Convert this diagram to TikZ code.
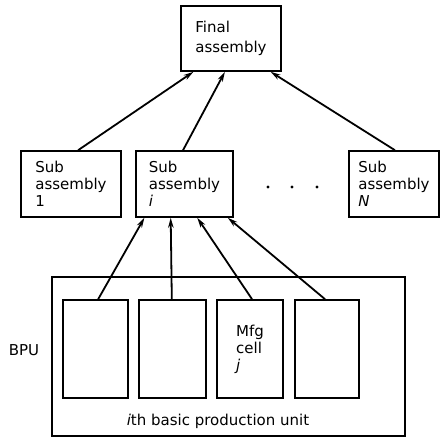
\documentclass[tikz,border=0pt]{standalone}
\usepackage{fontspec}
\setmainfont{DejaVu Sans}
\usetikzlibrary{arrows.meta,calc}
\begin{document}
\begin{tikzpicture}[x=1pt,y=-1pt,
  box/.style={draw, line width=1.6pt, inner sep=0pt, align=left, font=\fontsize{15}{17}\selectfont},
  lbl/.style={inner sep=0pt, font=\fontsize{15}{17}\selectfont},
  arr/.style={line width=1.8pt, -{Stealth[length=10pt,width=5.5pt]}},
]
\useasboundingbox (0,0) rectangle (441,437);
% top level
\node[box, minimum width=100pt, minimum height=65pt, font=\fontsize{15}{20}\selectfont] (final) at (231,38.5) {Final\\assembly};
% sub assemblies
\node[box, minimum width=100pt, minimum height=66pt] (s1) at (71,184) {Sub\\assembly\\1};
\node[box, minimum width=97pt, minimum height=66pt] (si) at (184.5,184) {Sub\\assembly\\\textit{i}};
\node[box, minimum width=90pt, minimum height=66pt] (sn) at (394,184) {Sub\\assembly\\\textit{N}};
\fill (268,187) circle (1.7) (292,187) circle (1.7) (317,187) circle (1.7);
% basic production unit
\node[box, minimum width=353pt, minimum height=159pt] (bpu) at (228.5,356.5) {};
\node[box, minimum width=65pt, minimum height=98pt] (c1) at (95.5,349) {};
\node[box, minimum width=67pt, minimum height=98pt] (c2) at (172.5,349) {};
\node[box, minimum width=66pt, minimum height=98pt] (c3) at (250,349) {Mfg\\cell\\\textit{j}};
\node[box, minimum width=64pt, minimum height=98pt] (c4) at (327,349) {};
\node[lbl, anchor=base] (bpulabel) at (24,355) {BPU};
\node[lbl, anchor=base] (unit) at (218,425) {\textit{i}th basic production unit};
% arrows to final assembly
\draw[arr] ($(s1.north west)!0.57!(s1.north east)$) -- ($(final.south west)!0.13!(final.south east)$);
\draw[arr] ($(si.north west)!0.485!(si.north east)$) -- ($(final.south west)!0.44!(final.south east)$);
\draw[arr] ($(sn.north west)!0.51!(sn.north east)$) -- ($(final.south west)!0.89!(final.south east)$);
% arrows from cells to sub assembly i
\draw[arr] ($(c1.north west)!0.54!(c1.north east)$) -- ($(si.south west)!0.093!(si.south east)$);
\draw[arr] ($(c2.north west)!0.49!(c2.north east)$) -- ($(si.south west)!0.36!(si.south east)$);
\draw[arr] ($(c3.north west)!0.53!(c3.north east)$) -- ($(si.south west)!0.63!(si.south east)$);
\draw[arr] ($(c4.north west)!0.47!(c4.north east)$) -- ($(si.south west)!0.94!(si.south east)$);
\end{tikzpicture}
\end{document}
